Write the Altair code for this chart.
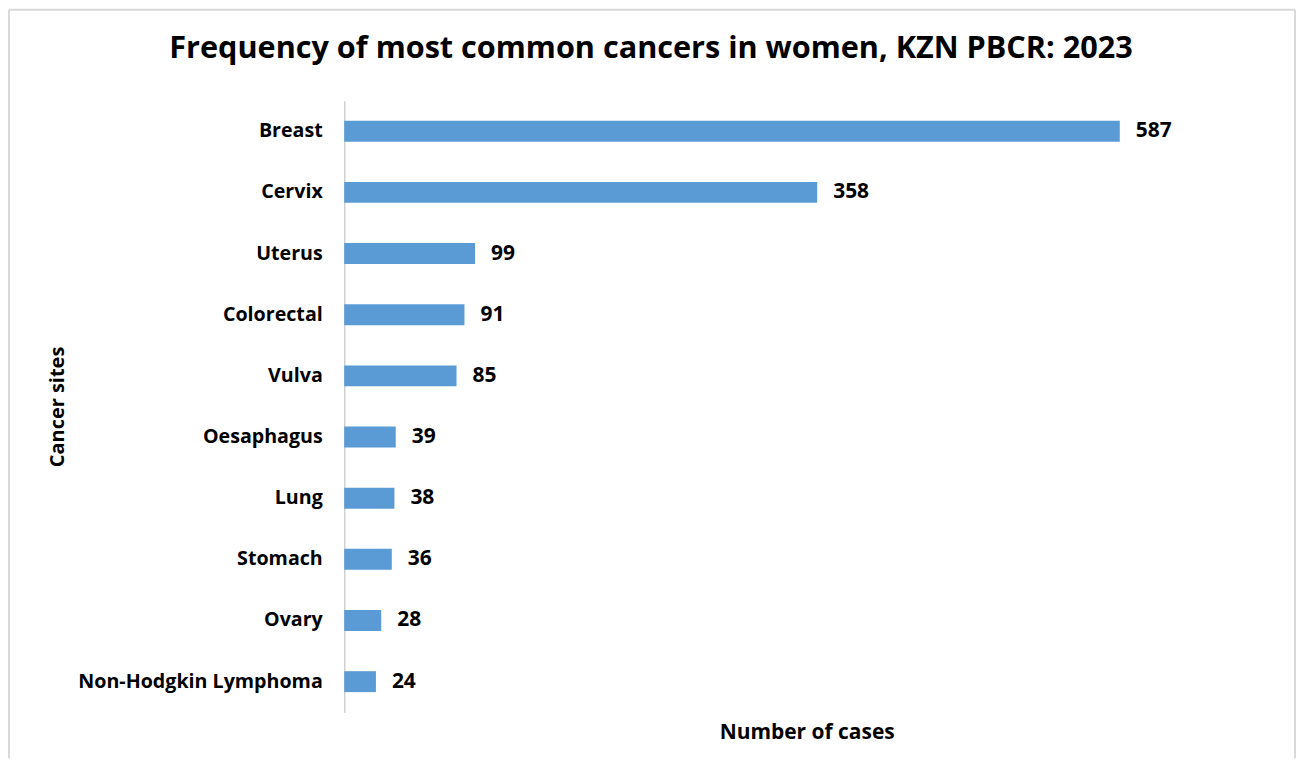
import altair as alt
import pandas as pd

sites = ["Breast", "Cervix", "Uterus", "Colorectal", "Vulva", "Oesaphagus ",
         "Lung", "Stomach", "Ovary", "Non-Hodgkin Lymphoma"]
cases = [587, 358, 99, 91, 85, 39, 38, 36, 28, 24]

df = pd.DataFrame({"site": sites, "cases": cases})

FONT = "Open Sans"
BAR = "#5B9BD5"
W, H = 927, 613

y_enc = alt.Y("site:N", sort=sites,
              scale=alt.Scale(paddingInner=0, paddingOuter=0),
              axis=alt.Axis(title="Cancer sites", labelFont=FONT, labelFontWeight="bold",
                            labelFontSize=19.7, labelColor="#000000", labelPadding=22,
                            labelLimit=0, ticks=False, domainColor="#d0d0d0", domainWidth=1.5,
                            titleFont=FONT, titleFontWeight="bold", titleFontSize=20,
                            titleColor="#000000", titleX=-277))
x_enc = alt.X("cases:Q", scale=alt.Scale(domain=[0, 700], nice=False),
              axis=alt.Axis(title="Number of cases", labels=False, ticks=False, domain=False,
                            grid=False, titleFont=FONT, titleFontWeight="bold", titleFontSize=21,
                            titleColor="#000000", titlePadding=9))

bars = alt.Chart(df).mark_bar(size=21, color=BAR).encode(x=x_enc, y=y_enc)
labels = alt.Chart(df).mark_text(align="left", baseline="middle", dx=16, font=FONT,
                                 fontWeight="bold", fontSize=21, color="#000000").encode(
    x="cases:Q", y=alt.Y("site:N", sort=sites), text="cases:Q")

frame = pd.DataFrame({"k": [0]})
GRAY = "#d9d9d9"
left = alt.Chart(frame).mark_rule(color=GRAY, strokeWidth=2).encode(
    x=alt.value(-336), y=alt.value(-91), y2=alt.value(659))
right = alt.Chart(frame).mark_rule(color=GRAY, strokeWidth=2).encode(
    x=alt.value(953), y=alt.value(-91), y2=alt.value(659))
top = alt.Chart(frame).mark_rule(color=GRAY, strokeWidth=2).encode(
    x=alt.value(-336), x2=alt.value(953), y=alt.value(-91))

chart = alt.layer(bars, labels, left, right, top).properties(
    width=W, height=H, padding=0, background="white",
    title=alt.TitleParams("Frequency of most common cancers in women, KZN PBCR: 2023",
                          font=FONT, fontSize=30.7, fontWeight="bold", color="#000000",
                          anchor="middle", frame="group", dx=-156, offset=-80,
                          baseline="alphabetic"),
).configure_view(stroke=None, strokeWidth=0)

chart.save("out.html", embed_options={"renderer": "svg", "actions": False})
